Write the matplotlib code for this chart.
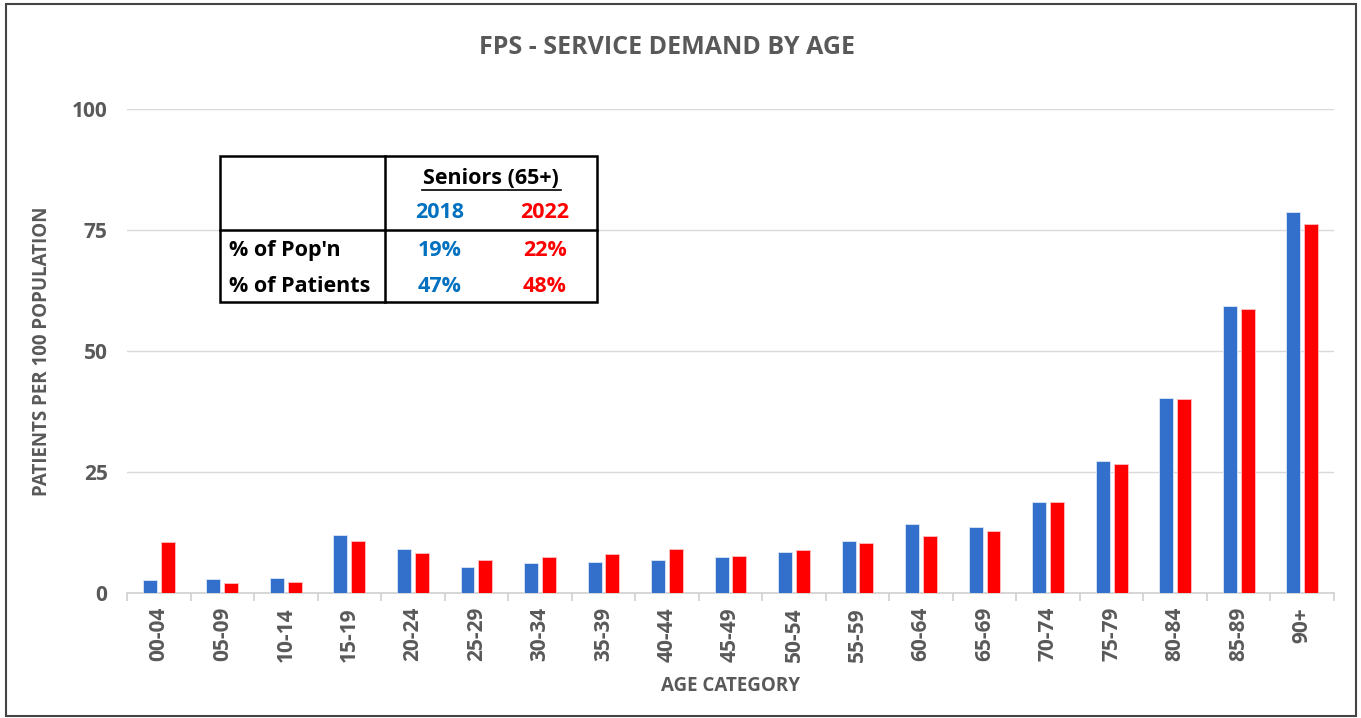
import matplotlib.pyplot as plt
import numpy as np
from matplotlib.patches import Rectangle

plt.rcParams['font.family'] = ['Open Sans', 'DejaVu Sans']

# data
ages = ['00-04', '05-09', '10-14', '15-19', '20-24', '25-29', '30-34', '35-39',
        '40-44', '45-49', '50-54', '55-59', '60-64', '65-69', '70-74', '75-79',
        '80-84', '85-89', '90+']
rate_2018 = [2.7, 2.9, 3.1, 12.0, 9.1, 5.4, 6.2, 6.4, 6.8, 7.4, 8.5, 10.7,
             14.3, 13.6, 18.8, 27.3, 40.3, 59.3, 78.7]
rate_2022 = [10.5, 2.1, 2.3, 10.7, 8.3, 6.8, 7.4, 8.1, 9.1, 7.6, 8.9, 10.3,
             11.8, 12.8, 18.8, 26.7, 40.1, 58.7, 76.2]

# seniors table
years = ['2018', '2022']
pop_share = ['19%', '22%']
patient_share = ['47%', '48%']

blue = '#3370CC'
red = '#FF0000'
gray = '#595959'

fig = plt.figure(figsize=(13.61, 7.18), dpi=100)
W, H = 1361, 718
ax = fig.add_axes([127 / W, 1 - 593 / H, (1334 - 127) / W, (593 - 109) / H])

x = np.arange(len(ages))
w = 0.22
ax.bar(x - w / 2 - 0.03, rate_2018, w, color=blue, edgecolor='#DCE6F5', linewidth=0.6, zorder=3)
ax.bar(x + w / 2 + 0.03, rate_2022, w, color=red, edgecolor='#FFC0C0', linewidth=0.6, zorder=3)

ax.set_xlim(-0.5, len(ages) - 0.5)
ax.set_ylim(0, 100)
ax.set_yticks([0, 25, 50, 75, 100])
ax.yaxis.grid(True, color='#D9D9D9', linewidth=1)
ax.set_axisbelow(True)
for s in ['top', 'right', 'left']:
    ax.spines[s].set_visible(False)
ax.spines['bottom'].set_color('#D0D0D0')
ax.spines['bottom'].set_linewidth(1.2)

ax.set_xticks(x)
ax.set_xticklabels(ages, rotation=90, fontsize=15, fontweight='bold', color=gray)
ax.set_xticks(np.arange(-0.5, len(ages)), minor=True)
ax.tick_params(axis='x', which='major', length=0, pad=10)
ax.tick_params(axis='x', which='minor', length=6, color='#D0D0D0', width=1.2)
ax.tick_params(axis='y', length=0, labelsize=15, labelcolor=gray, pad=14)
for lbl in ax.get_yticklabels():
    lbl.set_fontweight('bold')

ax.set_xlabel('AGE CATEGORY', fontsize=13.5, fontweight='bold', color=gray)
ax.xaxis.set_label_coords(0.5, -0.172)
ax.set_ylabel('PATIENTS PER 100 POPULATION', fontsize=13.5, fontweight='bold', color=gray)
ax.yaxis.set_label_coords(-0.062, 0.5)

fig.text(667 / W, 1 - 48 / H, 'FPS - SERVICE DEMAND BY AGE', ha='center', va='center',
         fontsize=18, fontweight='bold', color=gray)

# table box
def fx(px):
    return px / W

def fy(py):
    return 1 - py / H

tr = fig.transFigure
fig.patches.append(Rectangle((fx(220), fy(302)), fx(597) - fx(220), fy(156) - fy(302),
                             transform=tr, facecolor='white', edgecolor='black', linewidth=1.8, zorder=5))
fig.lines.append(plt.Line2D([fx(385), fx(385)], [fy(156), fy(302)], transform=tr, color='black', linewidth=1.8, zorder=6))
fig.lines.append(plt.Line2D([fx(220), fx(597)], [fy(230), fy(230)], transform=tr, color='black', linewidth=1.8, zorder=6))

tkw = dict(fontsize=15.5, fontweight='bold', va='center', zorder=7)
fig.text(fx(491), fy(178), 'Seniors (65+)', ha='center', color='black', **tkw)
fig.lines.append(plt.Line2D([fx(422), fx(561)], [fy(190), fy(190)], transform=tr, color='black', linewidth=1.2, zorder=7))
fig.text(fx(440), fy(213), years[0], ha='center', color='#0070C0', **tkw)
fig.text(fx(545), fy(213), years[1], ha='center', color=red, **tkw)
fig.text(fx(229), fy(250), "% of Pop'n", ha='left', color='black', **tkw)
fig.text(fx(229), fy(287), '% of Patients', ha='left', color='black', **tkw)
fig.text(fx(440), fy(250), pop_share[0], ha='center', color='#0070C0', **tkw)
fig.text(fx(545), fy(250), pop_share[1], ha='center', color=red, **tkw)
fig.text(fx(440), fy(287), patient_share[0], ha='center', color='#0070C0', **tkw)
fig.text(fx(545), fy(287), patient_share[1], ha='center', color=red, **tkw)

# outer frame
fig.patches.append(Rectangle((fx(6), fy(716)), fx(1356) - fx(6), fy(4) - fy(716),
                             transform=tr, facecolor='none', edgecolor='#444444', linewidth=1.5, zorder=8))

fig.savefig('out.png', dpi=100)
